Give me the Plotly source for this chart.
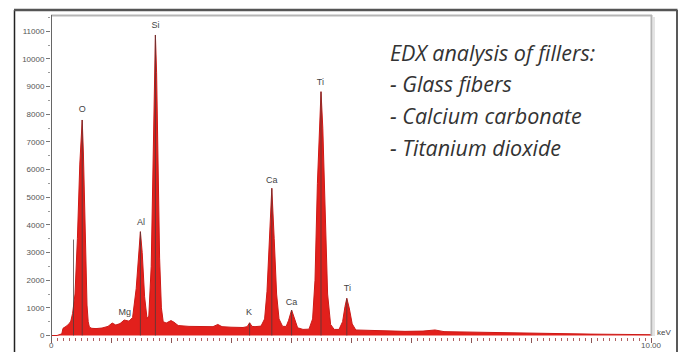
import plotly.graph_objects as go

# ---- data ----
kev = [0.00, 0.10, 0.18, 0.20, 0.25, 0.30, 0.33, 0.36, 0.40, 0.44, 0.48, 0.51, 0.52, 0.54, 0.56, 0.58,
       0.60, 0.62, 0.64, 0.68, 0.75, 0.85, 0.95, 1.02, 1.08, 1.15, 1.22, 1.30, 1.36, 1.42, 1.46, 1.49,
       1.52, 1.56, 1.60, 1.63, 1.67, 1.70, 1.72, 1.74, 1.76, 1.78, 1.81, 1.84, 1.87, 1.92, 2.00, 2.05,
       2.12, 2.30, 2.50, 2.70, 2.78, 2.85, 3.00, 3.20, 3.27, 3.31, 3.35, 3.40, 3.50, 3.56, 3.60, 3.64,
       3.68, 3.72, 3.76, 3.80, 3.86, 3.92, 3.96, 4.01, 4.06, 4.11, 4.20, 4.30, 4.36, 4.40, 4.44, 4.48,
       4.50, 4.53, 4.57, 4.61, 4.66, 4.72, 4.80, 4.86, 4.90, 4.93, 4.97, 5.02, 5.08, 5.30, 5.60, 5.90,
       6.20, 6.40, 6.55, 7.00, 7.50, 8.00, 8.50, 9.00, 9.50, 10.00]
counts = [0, 0, 60, 260, 330, 420, 520, 800, 1500, 3500, 6200, 7600, 7794, 6600, 4400, 2400,
          1100, 500, 300, 260, 250, 270, 330, 450, 380, 430, 560, 520, 650, 1700, 3000, 3754,
          3000, 1400, 620, 700, 2500, 6500, 9500, 10868, 9500, 6500, 2800, 1000, 500, 450, 540, 480,
          360, 330, 320, 320, 400, 320, 300, 290, 320, 460, 330, 320, 340, 600, 1600, 3500,
          5324, 3500, 1500, 600, 330, 330, 550, 922, 600, 280, 220, 230, 600, 2000, 5500, 8200,
          8817, 7500, 4200, 1500, 400, 220, 220, 500, 1050, 1345, 1000, 420, 200, 180, 160, 150,
          160, 200, 140, 120, 100, 90, 70, 50, 40, 30]

label_text = ["O", "Mg", "Al", "Si", "K", "Ca", "Ca", "Ti", "Ti"]
label_kev = [0.52, 1.23, 1.50, 1.74, 3.30, 3.68, 4.01, 4.49, 4.94]
label_counts = [8150, 830, 4080, 11200, 820, 5590, 1170, 9140, 1690]

marker_kev = [0.375, 0.52, 1.49, 1.74, 3.31, 3.68, 4.01, 4.50, 4.93]
marker_counts = [3470, 7794, 3754, 10868, 460, 5324, 922, 8817, 1345]

y_ticks = [0, 1000, 2000, 3000, 4000, 5000, 6000, 7000, 8000, 9000, 10000, 11000]
y_ticktext = ["0", "1000", "2000", "3000", "4000", "5000", "6000", "7000", "8000", "9000", "10000", "11000"]
x_ticks = [0, 1, 2, 3, 4, 5, 6, 7, 8, 9, 10]
x_end_labels = ["0", "10.00"]
x_end_values = [0, 10]

legend_lines = ["EDX analysis of fillers:", "- Glass fibers", "- Calcium carbonate", "- Titanium dioxide"]

# ---- figure ----
fig = go.Figure()

fig.add_trace(go.Scatter(
    x=kev, y=counts, mode="lines", fill="tozeroy",
    line=dict(color="rgb(205,25,22)", width=1),
    fillcolor="rgb(226,32,28)", hoverinfo="skip", showlegend=False))

mx, my = [], []
for k, c in zip(marker_kev, marker_counts):
    mx += [k, k, None]
    my += [0, c, None]
fig.add_trace(go.Scatter(x=mx, y=my, mode="lines",
                         line=dict(color="rgba(70,60,60,0.75)", width=1),
                         hoverinfo="skip", showlegend=False))

fig.add_trace(go.Scatter(x=label_kev, y=label_counts, text=label_text, mode="text",
                         textfont=dict(family="Liberation Sans, Arial, sans-serif", size=9, color="#444"),
                         hoverinfo="skip", showlegend=False))

# plot area: x 51..651, y 15..337
L, R, T, B = 51, 33, 15, 15
W, H = 684, 352
pw, ph = W - L - R, H - T - B

def px(x):
    return (x - L) / pw

def py(y):
    return (H - B - y) / ph

shapes = [
    # outer frame
    dict(type="line", xref="paper", yref="paper", x0=px(14.5), x1=px(14.5), y0=py(10), y1=py(360),
         line=dict(color="#222", width=1.5)),
    dict(type="line", xref="paper", yref="paper", x0=px(677), x1=px(677), y0=py(10), y1=py(360),
         line=dict(color="#222", width=1.5)),
    dict(type="line", xref="paper", yref="paper", x0=px(14), x1=px(677.5), y0=py(10), y1=py(10),
         line=dict(color="#555", width=2.5)),
    # inner plot frame (light gray with soft shadow)
    dict(type="line", xref="paper", yref="paper", x0=px(51), x1=px(652), y0=py(15.5), y1=py(15.5),
         line=dict(color="#b5b5b5", width=2)),
    dict(type="line", xref="paper", yref="paper", x0=px(651.5), x1=px(651.5), y0=py(15), y1=py(336),
         line=dict(color="#b5b5b5", width=2)),
    dict(type="line", xref="paper", yref="paper", x0=px(654), x1=px(654), y0=py(17), y1=py(336),
         line=dict(color="#e4e4e4", width=2)),
    # y axis line
    dict(type="line", xref="paper", yref="paper", x0=px(51.5), x1=px(51.5), y0=py(15), y1=py(341),
         line=dict(color="#666", width=1)),
]

annotations = []
for i, t in enumerate(legend_lines):
    annotations.append(dict(xref="paper", yref="paper", x=px(388), y=py(52 + 31.7 * i),
                            xanchor="left", yanchor="middle", showarrow=False, text=t,
                            font=dict(family="Open Sans, sans-serif", size=21.5, color="#333",
                                      style="italic")))
annotations.append(dict(xref="paper", yref="paper", x=px(655), y=py(332), xanchor="left",
                        yanchor="middle", showarrow=False, text="keV",
                        font=dict(family="Liberation Sans, Arial, sans-serif", size=8, color="#444")))
for v, t in zip(x_end_values, x_end_labels):
    annotations.append(dict(xref="x", yref="paper", x=v, y=py(345), xanchor="center",
                            yanchor="middle", showarrow=False, text=t,
                            font=dict(family="Liberation Sans, Arial, sans-serif", size=8, color="#555")))

fig.update_layout(
    width=W, height=H,
    margin=dict(l=L, r=R, t=T, b=B, autoexpand=False),
    paper_bgcolor="white", plot_bgcolor="white",
    shapes=shapes, annotations=annotations,
    xaxis=dict(range=[0, 10], tickvals=x_ticks, showticklabels=False, ticks="outside", ticklen=5,
               tickcolor="#8a5555", tickwidth=1, showgrid=False, zeroline=False, showline=False,
               automargin=False,
               minor=dict(dtick=0.1, ticks="outside", ticklen=3, tickcolor="#b06060", showgrid=False)),
    yaxis=dict(range=[-54, 11591], tickvals=y_ticks, ticktext=y_ticktext, ticks="outside", ticklen=4,
               tickcolor="#777", showgrid=False, zeroline=False, showline=False, automargin=False,
               tickfont=dict(family="Liberation Sans, Arial, sans-serif", size=8, color="#555"),
               minor=dict(dtick=500, ticks="outside", ticklen=2, tickcolor="#999", showgrid=False)),
)

fig.write_html("out.html", config={"displayModeBar": False},
               post_script="document.body.style.margin='0';document.body.style.overflow='hidden';")
